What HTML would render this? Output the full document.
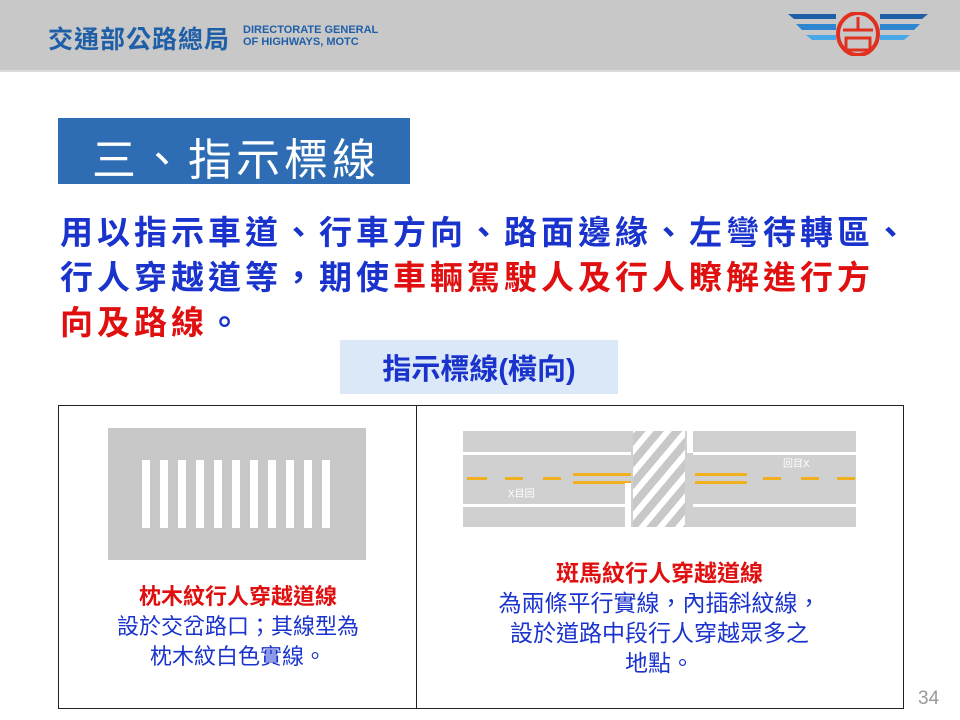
<!DOCTYPE html><html><head><meta charset="utf-8"><style>
body{margin:0;width:960px;height:720px;position:relative;background:#fff;font-family:"Liberation Sans","Noto Sans CJK TC",sans-serif;overflow:hidden}
.a{position:absolute}
</style></head><body>
<div class="a" style="left:0;top:0;width:960px;height:70px;background:#c8c8c8;border-bottom:2px solid #dcdcdc"></div>
<div class="a" style="left:48px;top:20px;font-size:25px;font-weight:bold;color:#1f5fa8;letter-spacing:1px">交通部公路總局</div>
<div class="a" style="left:243px;top:24px;font-size:11px;font-weight:bold;color:#1f5fa8;line-height:12px">DIRECTORATE GENERAL<br>OF HIGHWAYS, MOTC</div>
<svg class="a" style="left:788px;top:12px" width="140" height="44">
<path d="M0 2h48v5H6z" fill="#1f5fa8"/><path d="M140 2H92v5h42z" fill="#1f5fa8"/>
<path d="M8 12h40v6H14z" fill="#2e86d0"/><path d="M132 12H92v6h34z" fill="#2e86d0"/>
<path d="M18 23h30v5H24z" fill="#4aa8e8"/><path d="M122 23H92v5h24z" fill="#4aa8e8"/>
<ellipse cx="70" cy="22" rx="20" ry="21" fill="none" stroke="#e03020" stroke-width="4"/>
<path d="M55 18h30M70 5v13M58 26h24v12H58z" fill="none" stroke="#e03020" stroke-width="3"/></svg>
<div class="a" style="left:58px;top:118px;width:352px;height:66px;background:#2e6db4"></div>
<div class="a" style="left:92px;top:124px;font-size:44px;color:#fff;letter-spacing:4px;white-space:nowrap">三、指示標線</div>
<div class="a" style="left:60px;top:210px;width:900px;font-size:33px;line-height:45px;font-weight:bold;color:#1a33cc;letter-spacing:4px;white-space:nowrap">用以指示車道、行車方向、路面邊緣、左彎待轉區、<br>行人穿越道等，期使<span style="color:#e01010">車輛駕駛人及行人瞭解進行方<br>向及路線</span>。</div>
<div class="a" style="left:340px;top:340px;width:278px;height:54px;background:#dbe8f7"></div>
<div class="a" style="left:340px;top:346px;width:278px;text-align:center;font-size:29px;font-weight:bold;color:#1a33cc">指示標線(橫向)</div>
<div class="a" style="left:58px;top:405px;width:844px;height:302px;border:1px solid #222"></div>
<div class="a" style="left:416px;top:405px;width:1px;height:303px;background:#222"></div>
<div class="a" style="left:108px;top:428px;width:258px;height:132px;background:#c8c8c8"></div>
<svg class="a" style="left:140px;top:460px" width="200" height="70"><g fill="#fff">
<rect x="2" width="8" height="68"/><rect x="20" width="8" height="68"/><rect x="38" width="8" height="68"/><rect x="56" width="8" height="68"/><rect x="74" width="8" height="68"/><rect x="92" width="8" height="68"/><rect x="110" width="8" height="68"/><rect x="128" width="8" height="68"/><rect x="146" width="8" height="68"/><rect x="164" width="8" height="68"/><rect x="182" width="8" height="68"/></g></svg>
<div class="a" style="left:60px;top:582px;width:356px;text-align:center;font-size:22px;line-height:30px;color:#1a33cc"><b style="color:#e01010">枕木紋行人穿越道線</b><br>設於交岔路口；其線型為<br>枕木紋白色實線。</div>
<svg class="a" style="left:463px;top:431px" width="393" height="96">
<defs><pattern id="h" width="14" height="14" patternUnits="userSpaceOnUse" patternTransform="rotate(40)"><rect width="14" height="14" fill="#c8c8c8"/><rect width="6" height="14" fill="#fff"/></pattern></defs>
<rect width="393" height="96" fill="#d0d0d0"/>
<rect x="0" y="21" width="168" height="3" fill="#fff"/><rect x="230" y="21" width="163" height="3" fill="#fff"/>
<rect x="0" y="73" width="162" height="3" fill="#fff"/><rect x="230" y="73" width="163" height="3" fill="#fff"/>
<g fill="#f0b020"><rect x="4" y="46" width="20" height="3"/><rect x="42" y="46" width="18" height="3"/><rect x="80" y="46" width="18" height="3"/><rect x="110" y="42" width="58" height="3"/><rect x="110" y="50" width="58" height="3"/><rect x="232" y="42" width="52" height="3"/><rect x="232" y="50" width="52" height="3"/><rect x="300" y="46" width="18" height="3"/><rect x="338" y="46" width="18" height="3"/><rect x="374" y="46" width="18" height="3"/></g>
<rect x="170" y="0" width="52" height="96" fill="url(#h)"/>
<rect x="162" y="52" width="6" height="44" fill="#fff"/><rect x="224" y="0" width="6" height="22" fill="#fff"/>
<text x="45" y="66" font-size="10" fill="#fff">X目回</text><text x="320" y="36" font-size="10" fill="#fff">回目X</text>
</svg>
<div class="a" style="left:417px;top:558px;width:485px;text-align:center;font-size:23px;line-height:30px;color:#1a33cc"><b style="color:#e01010">斑馬紋行人穿越道線</b><br>為兩條平行實線，內插斜紋線，<br>設於道路中段行人穿越眾多之<br>地點。</div>
<div class="a" style="left:918px;top:688px;font-size:19px;color:#999">34</div>
</body></html>
